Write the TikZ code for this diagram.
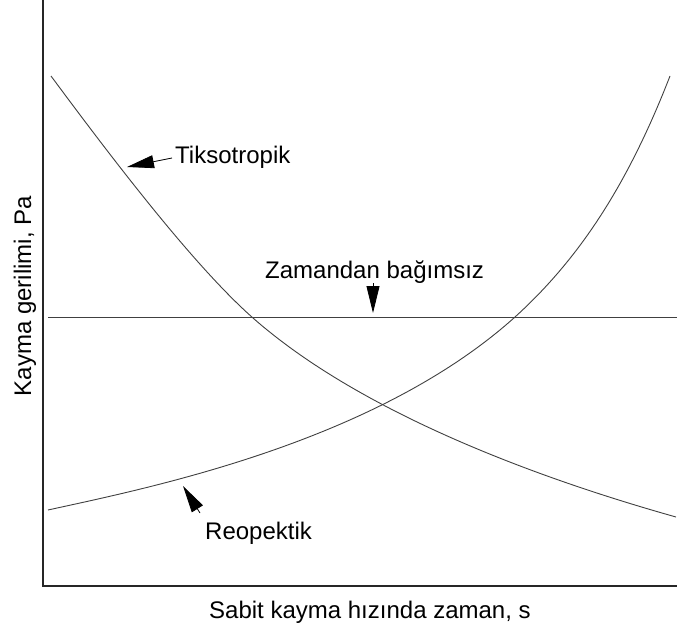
\documentclass[tikz,border=0pt]{standalone}
\usepackage{fontspec}
\setmainfont{Liberation Sans}
\usetikzlibrary{arrows.meta}
\begin{document}
\begin{tikzpicture}[x=1pt,y=-1pt,
  axisline/.style={line width=1.1pt,black!85},
  curveline/.style={line width=0.9pt,black!75},
  lbl/.style={font=\fontsize{24}{28}\selectfont,inner sep=0pt,anchor=base west},
  pointer/.style={line width=0.8pt,-{Triangle[length=27pt,width=13pt]}}]
\useasboundingbox (0,0) rectangle (677,629);
% axes
\coordinate (top) at (43,0);
\coordinate (origin) at (43,586);
\coordinate (xend) at (677,586);
\draw[axisline] (top) -- (origin) -- (xend);
% time-independent line
\coordinate (h0) at (48,317);
\coordinate (h1) at (677,317);
\draw[curveline] (h0) -- (h1);
% thixotropic
\coordinate (t0) at (51,76);
\coordinate (t1) at (253,318);
\coordinate (t2) at (676,517);
\draw[curveline] (t0) .. controls (111,157) and (193,265) .. (t1)
  .. controls (353,406) and (516,472) .. (t2);
% rheopectic
\coordinate (r0) at (48,510);
\coordinate (r1) at (515,317);
\coordinate (r2) at (670,76);
\draw[curveline] (r0) .. controls (148,488) and (375,443) .. (r1)
  .. controls (580,258) and (628,184) .. (r2);
% labels
\node[lbl] (tiks) at (175,163) {Tiksotropik};
\node[lbl] (zam) at (265,278) {Zamandan bağımsız};
\node[lbl] (reop) at (205,539) {Reopektik};
\node[lbl] (xlab) at (209,618) {Sabit kayma hızında zaman, s};
\node[font=\fontsize{24}{28}\selectfont,inner sep=0pt,rotate=90,anchor=base] (ylab) at (31,296) {Kayma gerilimi, Pa};
% pointers
\coordinate (tA) at (172,158); \coordinate (tB) at (127,167);
\coordinate (zA) at (373,283); \coordinate (zB) at (373,313);
\coordinate (rA) at (200,513); \coordinate (rB) at (183,486);
\draw[pointer] (tA) -- (tB);
\draw[pointer] (zA) -- (zB);
\draw[pointer] (rA) -- (rB);
\end{tikzpicture}
\end{document}
